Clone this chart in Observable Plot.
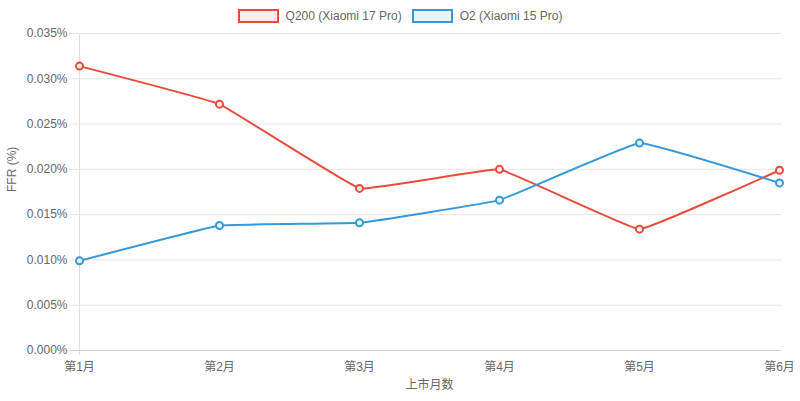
<!DOCTYPE html>
<html><head><meta charset="utf-8">
<script src="https://cdn.jsdelivr.net/npm/d3@7"></script>
<script src="https://cdn.jsdelivr.net/npm/@observablehq/plot@0.6"></script>
<style>
body{margin:0;background:#fff;font-family:"Liberation Sans",Arial,"Noto Sans CJK SC",sans-serif;}
#legend{height:26px;display:flex;justify-content:center;align-items:center;font-size:12px;color:#666;padding-top:5px;box-sizing:border-box;}
.item{display:flex;align-items:center;margin:0 5px;}
.box{width:37px;height:10px;border:2px solid;margin-right:7px;}
#chart svg{display:block;}
</style></head>
<body>
<div id="legend"></div>
<div id="chart"></div>
<script>
const months = ["第1月","第2月","第3月","第4月","第5月","第6月"];
const q200 = [0.0314, 0.0272, 0.0179, 0.0200, 0.0134, 0.0199];
const o2 = [0.0099, 0.0138, 0.0141, 0.0166, 0.0229, 0.0185];
const seriesNames = ["Q200 (Xiaomi 17 Pro)", "O2 (Xiaomi 15 Pro)"];
const colors = ["#e74c3c", "#3498db"];
const fills = ["rgba(231,76,60,0.1)", "rgba(52,152,219,0.1)"];
const dotFills = ["#fdeceb", "#eaf4fb"];
const yTicks = [0, 0.005, 0.010, 0.015, 0.020, 0.025, 0.030, 0.035];

const legend = document.getElementById("legend");
seriesNames.forEach((n, i) => {
  const it = document.createElement("div"); it.className = "item";
  const b = document.createElement("div"); b.className = "box";
  b.style.borderColor = colors[i]; b.style.background = fills[i];
  const t = document.createElement("span"); t.textContent = n;
  it.appendChild(b); it.appendChild(t); legend.appendChild(it);
});

const data = [];
months.forEach((m, i) => {
  data.push({month: m, value: q200[i], series: seriesNames[0], fill: dotFills[0]});
  data.push({month: m, value: o2[i], series: seriesNames[1], fill: dotFills[1]});
});

const chart = Plot.plot({
  width: 800, height: 375,
  marginLeft: 77, marginRight: 19, marginTop: 7, marginBottom: 51,
  style: {fontFamily: '"Liberation Sans", Arial, "Noto Sans CJK SC", sans-serif', fontSize: "12px", color: "#666"},
  x: {type: "point", domain: months, padding: 0, label: null},
  y: {domain: [0, 0.035], label: null},
  color: {domain: seriesNames, range: colors},
  marks: [
    Plot.ruleY(yTicks.slice(1), {stroke: "#e6e6e6", strokeWidth: 1, insetLeft: -8}),
    Plot.ruleX([months[0]], {stroke: "#e0e0e0", insetBottom: -5}),
    Plot.ruleY([0], {stroke: "#cfcfcf", insetLeft: -8}),
    Plot.axisY({ticks: yTicks, tickSize: 0, tickPadding: 10, tickFormat: d => d.toFixed(3) + "%", fill: "#666", fontSize: 12, label: null}),
    Plot.axisX({tickSize: 0, tickPadding: 12, fill: "#666", fontSize: 12, label: null}),
    Plot.text(["FFR (%)"], {frameAnchor: "left", dx: -65, rotate: -90, fill: "#666", fontSize: 12}),
    Plot.text(["上市月数"], {frameAnchor: "bottom", dy: 38, fill: "#666", fontSize: 12}),
    Plot.line(data, {x: "month", y: "value", z: "series", stroke: "series", strokeWidth: 2, curve: "cardinal", tension: 0.8}),
    Plot.dot(data, {x: "month", y: "value", stroke: "series", fill: "fill", r: 3.5, strokeWidth: 2})
  ]
});
document.getElementById("chart").appendChild(chart);
</script>
</body></html>
